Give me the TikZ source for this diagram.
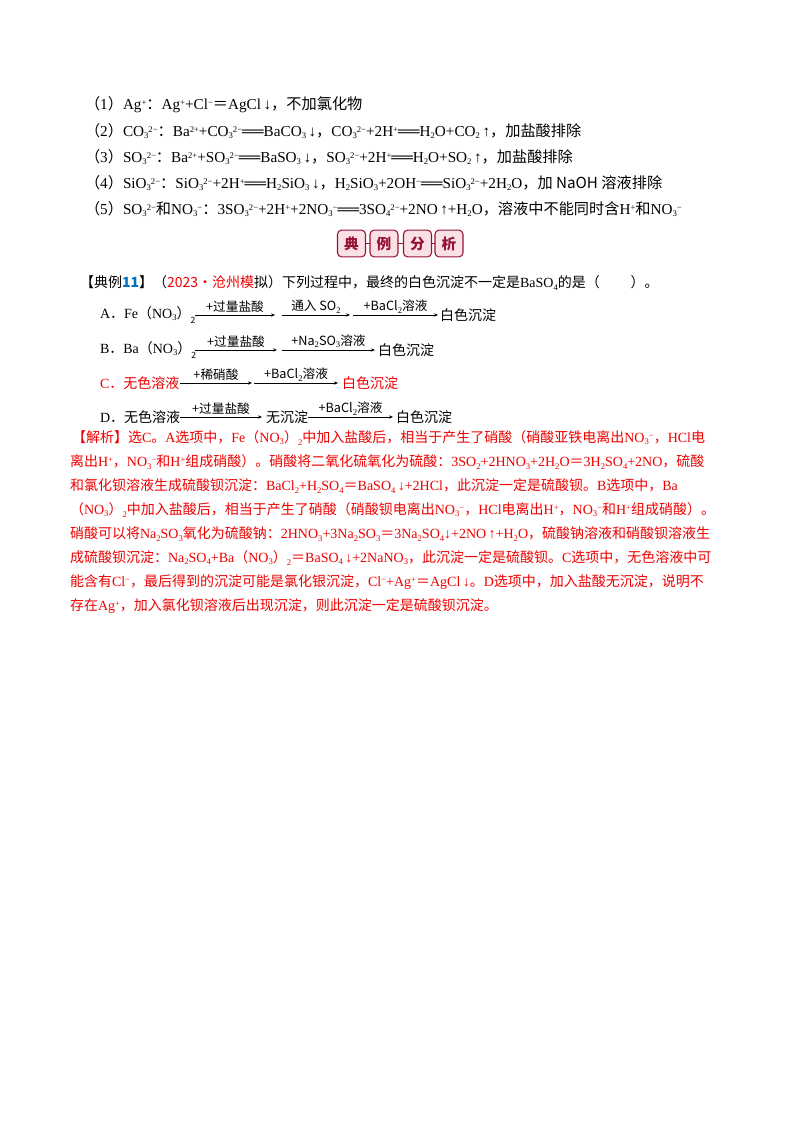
\documentclass[tikz,border=0pt]{standalone}
\usepackage{fontspec}
\setmainfont{Liberation Serif}
\newfontfamily\cjk{Noto Sans CJK SC}
\newcount\cc
\newXeTeXintercharclass\cjkclass
\cc="3000 \loop \XeTeXcharclass\cc=\cjkclass \ifnum\cc<"303F \advance\cc 1 \repeat
\cc="4E00 \loop \XeTeXcharclass\cc=\cjkclass \ifnum\cc<"9FFF \advance\cc 1 \repeat
\cc="FF00 \loop \XeTeXcharclass\cc=\cjkclass \ifnum\cc<"FFEF \advance\cc 1 \repeat
\XeTeXinterchartoks 0 \cjkclass = {\cjk}
\XeTeXinterchartoks 4095 \cjkclass = {\cjk}
\XeTeXinterchartoks \cjkclass 0 = {\rmfamily}
\XeTeXinterchartokenstate=1
\newcommand{\up}[1]{\raisebox{0.6ex}{\fontsize{6.5}{7}\selectfont\rmfamily #1}}
\newcommand{\dn}[1]{\raisebox{-0.35ex}{\fontsize{6.5}{7}\selectfont\rmfamily #1}}
\definecolor{jred}{RGB}{240,0,0}
\definecolor{jblue}{RGB}{0,112,192}
\definecolor{bdr}{RGB}{150,20,50}
\definecolor{bfill}{RGB}{250,225,232}
\begin{document}
\begin{tikzpicture}[x=0.75pt,y=-0.75pt,
  every node/.style={inner sep=0pt,outer sep=0pt,font=\fontsize{10.5}{12}\selectfont},
  t/.style={anchor=west},
  tl/.style={anchor=west,font=\fontsize{11.4}{13}\selectfont},
  r/.style={anchor=west,text=jred},
  rx/.style={-{Stealth[length=3pt,width=2.5pt]},line width=0.5pt},
  lab/.style={above=1.5pt,font=\fontsize{9.5}{11}\selectfont\cjk},
  badge/.style={draw=bdr,line width=0.8pt,rounded corners=3pt,fill=bfill,minimum width=21pt,minimum height=20pt,text=bdr,font=\fontsize{11}{12}\selectfont\cjk\bfseries}]
\usetikzlibrary{arrows.meta}
\fill[white] (0,0) rectangle (800,1132);
\path[use as bounding box] (0,0) rectangle (800,1132);
% top list
\node[tl] (l1) at (85,105) {（1）Ag\up{+}：Ag\up{+}+Cl\up{−}＝AgCl\,↓，不加氯化物};
\node[tl] (l2) at (85,131) {（2）CO\dn{3}\up{2−}：Ba\up{2+}+CO\dn{3}\up{2−}══BaCO\dn{3}\,↓，CO\dn{3}\up{2−}+2H\up{+}══H\dn{2}O+CO\dn{2}\,↑，加盐酸排除};
\node[tl] (l3) at (85,157) {（3）SO\dn{3}\up{2−}：Ba\up{2+}+SO\dn{3}\up{2−}══BaSO\dn{3}\,↓，SO\dn{3}\up{2−}+2H\up{+}══H\dn{2}O+SO\dn{2}\,↑，加盐酸排除};
\node[tl] (l4) at (85,183) {（4）SiO\dn{3}\up{2−}：SiO\dn{3}\up{2−}+2H\up{+}══H\dn{2}SiO\dn{3}\,↓，H\dn{2}SiO\dn{3}+2OH\up{−}══SiO\dn{3}\up{2−}+2H\dn{2}O，加 NaOH 溶液排除};
\node[tl] (l5) at (85,209) {（5）SO\dn{3}\up{2−}和NO\dn{3}\up{−}：3SO\dn{3}\up{2−}+2H\up{+}+2NO\dn{3}\up{−}══3SO\dn{4}\up{2−}+2NO\,↑+H\dn{2}O，溶液中不能同时含H\up{+}和NO\dn{3}\up{−}};
% badge
\node[badge] (b1) at (351.5,243.5) {典};
\node[badge] (b2) at (384,243.5) {例};
\node[badge] (b3) at (417.5,243.5) {分};
\node[badge] (b4) at (449,243.5) {析};
\draw[bdr,line width=0.8pt] (b1)--(b2) (b2)--(b3) (b3)--(b4);
% question
\node[t] (q) at (80,283) {【典例{\color{jblue}\bfseries 11}】（{\color{jred}2023·沧州模}拟）下列过程中，最终的白色沉淀不一定是BaSO\dn{4}的是（\hspace{2.2em}）。};
% A
\node[t] (a0) at (100,315) {A．Fe（NO\dn{3}）\raisebox{-0.6ex}{\fontsize{6.5}{7}\selectfont 2}};
\coordinate (a1s) at (195,315); \coordinate (a1e) at (275,315);
\coordinate (a2s) at (282,315); \coordinate (a2e) at (350,315);
\coordinate (a3s) at (353,315); \coordinate (a3e) at (438,315);
\draw[rx] (a1s)--(a1e) node[midway,lab]{+过量盐酸};
\draw[rx] (a2s)--(a2e) node[midway,lab]{通入 SO\dn{2}};
\draw[rx] (a3s)--(a3e) node[midway,lab]{+BaCl\dn{2}溶液};
\node[t] (a4) at (440,315) {白色沉淀};
% B
\node[t] (b0) at (100,350) {B．Ba（NO\dn{3}）\raisebox{-0.6ex}{\fontsize{6.5}{7}\selectfont 2}};
\coordinate (b1s) at (195,350); \coordinate (b1e) at (277,350);
\coordinate (b2s) at (282,350); \coordinate (b2e) at (375,350);
\draw[rx] (b1s)--(b1e) node[midway,lab]{+过量盐酸};
\draw[rx] (b2s)--(b2e) node[midway,lab]{+Na\dn{2}SO\dn{3}溶液};
\node[t] (b3t) at (378,350) {白色沉淀};
% C
\node[r] (c0) at (100,383) {C．无色溶液};
\coordinate (c1s) at (180,383); \coordinate (c1e) at (252,383);
\coordinate (c2s) at (254,383); \coordinate (c2e) at (338,383);
\draw[rx] (c1s)--(c1e) node[midway,lab]{+稀硝酸};
\draw[rx] (c2s)--(c2e) node[midway,lab]{+BaCl\dn{2}溶液};
\node[r] (c3) at (342,383) {白色沉淀};
% D
\node[t] (d0) at (100,417) {D．无色溶液};
\coordinate (d1s) at (180,417); \coordinate (d1e) at (262,417);
\coordinate (d2s) at (308,417); \coordinate (d2e) at (393,417);
\draw[rx] (d1s)--(d1e) node[midway,lab]{+过量盐酸};
\node[t] (d2) at (266,417) {无沉淀};
\draw[rx] (d2s)--(d2e) node[midway,lab]{+BaCl\dn{2}溶液};
\node[t] (d3) at (396,417) {白色沉淀};
% analysis
\node[r] (p1) at (72,438) {【解析】选C。A选项中，Fe（NO\dn{3}）\dn{2}中加入盐酸后，相当于产生了硝酸（硝酸亚铁电离出NO\dn{3}\up{−}，HCl电};
\node[r] (p2) at (70,462) {离出H\up{+}，NO\dn{3}\up{−}和H\up{+}组成硝酸）。硝酸将二氧化硫氧化为硫酸：3SO\dn{2}+2HNO\dn{3}+2H\dn{2}O＝3H\dn{2}SO\dn{4}+2NO，硫酸};
\node[r] (p3) at (70,486) {和氯化钡溶液生成硫酸钡沉淀：BaCl\dn{2}+H\dn{2}SO\dn{4}＝BaSO\dn{4}\,↓+2HCl，此沉淀一定是硫酸钡。B选项中，Ba};
\node[r] (p4) at (70,510) {（NO\dn{3}）\dn{2}中加入盐酸后，相当于产生了硝酸（硝酸钡电离出NO\dn{3}\up{−}，HCl电离出H\up{+}，NO\dn{3}\up{−}和H\up{+}组成硝酸）。};
\node[r] (p5) at (70,534) {硝酸可以将Na\dn{2}SO\dn{3}氧化为硫酸钠：2HNO\dn{3}+3Na\dn{2}SO\dn{3}＝3Na\dn{2}SO\dn{4}↓+2NO\,↑+H\dn{2}O，硫酸钠溶液和硝酸钡溶液生};
\node[r] (p6) at (70,558) {成硫酸钡沉淀：Na\dn{2}SO\dn{4}+Ba（NO\dn{3}）\dn{2}＝BaSO\dn{4}\,↓+2NaNO\dn{3}，此沉淀一定是硫酸钡。C选项中，无色溶液中可};
\node[r] (p7) at (70,582) {能含有Cl\up{−}，最后得到的沉淀可能是氯化银沉淀，Cl\up{−}+Ag\up{+}＝AgCl\,↓。D选项中，加入盐酸无沉淀，说明不};
\node[r] (p8) at (70,606) {存在Ag\up{+}，加入氯化钡溶液后出现沉淀，则此沉淀一定是硫酸钡沉淀。};
\end{tikzpicture}
\end{document}
